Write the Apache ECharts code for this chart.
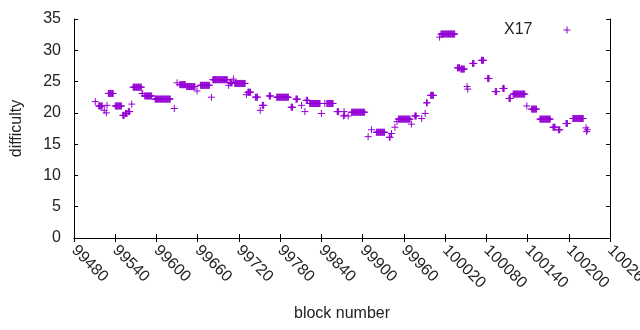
<!DOCTYPE html>
<html>
<head>
<meta charset="utf-8">
<script src="https://cdn.jsdelivr.net/npm/echarts@6/dist/echarts.min.js"></script>
<style>
html,body{margin:0;padding:0;background:#fff;}
#chart{width:640px;height:330px;}
</style>
</head>
<body>
<div id="chart"></div>
<script>
// ---- data ----
const seriesName = "X17";
const xAxisTitle = "block number";
const yAxisTitle = "difficulty";
const xRange = [99480, 100260];
const xStep = 60;
const yRange = [0, 35];
const yStep = 5;
const firstBlock = 99510; // block number of difficulty[0]
const _ = null;           // no point at this block
const difficulty = [
/*99510*/ _,21.8,_,_,_,_,21.1,21.1,21.1,21.1,
/*99520*/ 21.1,21.1,_,_,20.4,_,_,20.0,21.2,_,
/*99530*/ 23.1,23.1,23.1,23.1,23.1,23.1,23.1,23.1,_,_,
/*99540*/ 21.1,21.1,21.1,21.1,21.1,21.1,21.1,21.1,21.1,21.1,
/*99550*/ _,19.6,19.6,19.6,_,19.9,19.9,19.9,_,20.2,
/*99560*/ 20.2,20.2,_,_,21.4,_,24.1,24.1,24.1,24.1,
/*99570*/ 24.1,24.1,24.1,24.1,24.1,24.1,24.1,24.1,24.1,23.1,
/*99580*/ 23.1,_,_,22.7,22.7,22.7,22.7,22.7,22.7,22.7,
/*99590*/ 22.7,22.7,22.7,22.7,_,_,_,_,22.2,22.2,
/*99600*/ 22.2,22.2,22.2,22.2,22.2,22.2,22.2,22.2,22.2,22.2,
/*99610*/ 22.2,22.2,22.2,22.2,22.2,22.2,22.2,22.2,22.2,22.2,
/*99620*/ 22.2,_,_,_,_,_,20.7,_,_,_,
/*99630*/ 24.8,_,_,_,24.5,24.5,24.5,24.5,24.5,24.5,
/*99640*/ 24.5,24.5,24.5,_,24.2,24.2,24.2,24.2,24.2,24.2,
/*99650*/ 24.2,24.2,24.2,24.2,24.2,24.2,24.2,_,_,23.5,
/*99660*/ _,_,_,_,24.4,24.4,24.4,24.4,24.4,24.4,
/*99670*/ 24.4,24.4,24.4,24.4,24.4,24.4,24.4,24.4,_,_,
/*99680*/ 22.5,_,25.3,25.3,25.3,25.3,25.3,25.3,25.3,25.3,
/*99690*/ 25.3,25.3,25.3,25.3,25.3,25.3,25.3,25.3,25.3,25.3,
/*99700*/ 25.3,25.3,25.3,25.3,_,24.4,_,24.8,24.8,24.8,
/*99710*/ 24.8,_,25.4,_,24.7,24.7,24.7,24.7,24.7,24.7,
/*99720*/ 24.7,24.7,24.7,24.7,24.7,24.7,24.7,24.7,24.7,24.7,
/*99730*/ _,22.9,_,23.3,23.3,23.3,23.3,23.3,_,_,
/*99740*/ _,_,_,_,22.5,22.5,22.5,22.5,_,_,
/*99750*/ _,20.4,_,_,21.2,21.2,21.2,_,_,_,
/*99760*/ _,_,_,_,22.7,22.7,22.7,_,_,_,
/*99770*/ _,_,_,_,_,22.5,22.5,22.5,22.5,22.5,
/*99780*/ 22.5,22.5,22.5,22.5,22.5,22.5,22.5,22.5,22.5,22.5,
/*99790*/ 22.5,22.5,22.5,_,_,_,20.9,20.9,20.9,_,
/*99800*/ _,_,_,22.2,22.2,22.2,_,_,_,_,
/*99810*/ _,21.2,_,_,_,_,20.2,_,22.0,22.0,
/*99820*/ 22.0,_,_,21.5,21.5,21.5,21.5,21.5,21.5,21.5,
/*99830*/ 21.5,21.5,21.5,21.5,21.5,21.5,21.5,21.5,21.5,_,
/*99840*/ 19.9,_,_,_,_,21.5,_,_,21.5,21.5,
/*99850*/ 21.5,21.5,21.5,21.5,21.5,21.5,21.5,21.5,_,_,
/*99860*/ _,_,_,20.2,20.2,20.2,_,_,_,_,
/*99870*/ _,_,19.5,20.2,19.6,_,_,_,_,19.5,
/*99880*/ _,_,_,_,20.1,20.1,20.1,20.1,20.1,20.1,
/*99890*/ 20.1,20.1,20.1,20.1,20.1,20.1,20.1,20.1,20.1,20.1,
/*99900*/ 20.1,20.1,20.1,20.1,_,_,_,_,16.2,_,
/*99910*/ _,_,_,17.3,_,_,_,_,_,_,
/*99920*/ 16.9,16.9,16.9,16.9,16.9,16.9,16.9,16.9,16.9,16.9,
/*99930*/ 16.9,16.9,16.9,_,_,_,_,_,_,16.1,
/*99940*/ 16.1,_,16.7,_,_,_,_,17.7,_,_,
/*99950*/ 18.6,_,19.0,19.0,19.0,19.0,19.0,19.0,19.0,19.0,
/*99960*/ 19.0,19.0,19.0,19.0,19.0,19.0,19.0,19.0,19.0,19.0,
/*99970*/ _,18.2,_,_,_,_,19.5,19.5,19.5,_,
/*99980*/ _,_,_,_,_,_,19.1,_,_,_,
/*99990*/ _,19.9,_,21.6,21.6,_,_,_,_,22.8,
/*100000*/ 22.8,22.8,22.8,22.8,_,_,_,_,_,_,
/*100010*/ _,_,32.1,_,32.6,32.6,32.6,32.6,32.6,32.6,
/*100020*/ 32.6,32.6,32.6,32.6,32.6,32.6,32.6,32.6,32.6,32.6,
/*100030*/ 32.6,32.6,32.6,32.6,32.6,_,_,_,27.2,27.2,
/*100040*/ 27.2,27.2,_,27.0,27.0,27.0,27.0,27.0,27.0,_,
/*100050*/ _,_,24.2,23.8,_,_,_,_,_,_,
/*100060*/ 27.9,27.9,27.9,_,_,_,_,_,_,_,
/*100070*/ _,_,_,28.4,28.4,28.4,28.4,_,_,_,
/*100080*/ _,_,25.5,25.5,25.5,_,_,_,_,_,
/*100090*/ _,_,_,23.4,23.4,23.4,_,_,_,_,
/*100100*/ _,_,_,_,23.9,23.9,23.9,_,_,_,
/*100110*/ _,_,_,22.3,22.3,22.3,_,_,_,23.0,
/*100120*/ 23.0,23.0,23.0,23.0,23.0,23.0,23.0,23.0,23.0,23.0,
/*100130*/ 23.0,23.0,23.0,23.0,23.0,23.0,23.0,_,_,21.1,
/*100140*/ _,_,_,_,_,_,20.6,20.6,20.6,20.6,
/*100150*/ 20.6,20.6,20.6,20.6,_,_,_,_,19.0,19.0,
/*100160*/ 19.0,19.0,19.0,19.0,19.0,19.0,19.0,19.0,19.0,19.0,
/*100170*/ 19.0,19.0,19.0,19.0,_,_,_,17.7,17.7,17.7,
/*100180*/ 17.7,_,_,_,_,17.3,17.3,17.3,_,_,
/*100190*/ _,_,_,_,_,_,18.3,18.3,18.3,_,
/*100200*/ _,_,_,_,_,_,19.1,19.1,19.1,19.1,
/*100210*/ 19.1,19.1,19.1,19.1,19.1,19.1,19.1,19.1,19.1,19.1,
/*100220*/ 19.1,19.1,_,_,_,17.6,17.0,17.3
];
// ---- chart ----
const points = [];
difficulty.forEach(function (v, i) { if (v !== null) points.push([firstBlock + i, v]); });

const FONT = '"Liberation Sans", Arial, sans-serif';
const FS = 16;
const COLOR = '#9400d3';
const PLUS = 'path://M-1,0L1,0M0,-1L0,1';

const chart = echarts.init(document.getElementById('chart'), null, {renderer: 'canvas'});
const axisLine = {show: true, lineStyle: {color: '#000', width: 1}};
const tickIn = {show: true, inside: true, length: 4, lineStyle: {color: '#000', width: 1}};
chart.setOption({
  animation: false,
  backgroundColor: '#fff',
  textStyle: {fontFamily: FONT},
  grid: {left: 74, right: 30, top: 19, bottom: 92, containLabel: false, outerBoundsMode: 'none'},
  legend: {
    right: 67, top: 22, padding: 0, align: 'right', orient: 'vertical',
    itemWidth: 7, itemHeight: 7,
    data: [{name: seriesName, icon: PLUS}],
    itemStyle: {color: 'none', borderColor: COLOR, borderWidth: 1},
    textStyle: {fontFamily: FONT, fontSize: FS, color: '#222', padding: [0, 26, 0, 0]}
  },
  xAxis: [{
    type: 'value', min: xRange[0], max: xRange[1], interval: xStep,
    name: xAxisTitle, nameLocation: 'middle', nameGap: 68,
    nameTextStyle: {fontFamily: FONT, fontSize: FS, color: '#222'},
    axisLine: axisLine, axisTick: tickIn, splitLine: {show: false},
    axisLabel: {rotate: -45, margin: 10, fontFamily: FONT, fontSize: FS, color: '#222',
      showMinLabel: true, showMaxLabel: true, formatter: function (v) { return String(v); }}
  }, {
    type: 'value', position: 'top', min: xRange[0], max: xRange[1], interval: xStep,
    axisLine: axisLine, axisTick: tickIn, axisLabel: {show: false}, splitLine: {show: false}
  }],
  yAxis: [{
    type: 'value', min: yRange[0], max: yRange[1], interval: yStep,
    name: yAxisTitle, nameLocation: 'middle', nameGap: 49, nameRotate: 90,
    nameTextStyle: {fontFamily: FONT, fontSize: FS, color: '#222'},
    axisLine: axisLine, axisTick: tickIn, splitLine: {show: false},
    axisLabel: {margin: 13, fontFamily: FONT, fontSize: FS, color: '#222'}
  }, {
    type: 'value', position: 'right', min: yRange[0], max: yRange[1], interval: yStep,
    axisLine: axisLine, axisTick: tickIn, axisLabel: {show: false}, splitLine: {show: false}
  }],
  series: [{
    name: seriesName, type: 'scatter', xAxisIndex: 0, yAxisIndex: 0,
    symbol: PLUS, symbolSize: 7,
    itemStyle: {color: 'none', borderColor: COLOR, borderWidth: 1, opacity: 1},
    emphasis: {disabled: true},
    data: points
  }]
});
</script>
</body>
</html>
